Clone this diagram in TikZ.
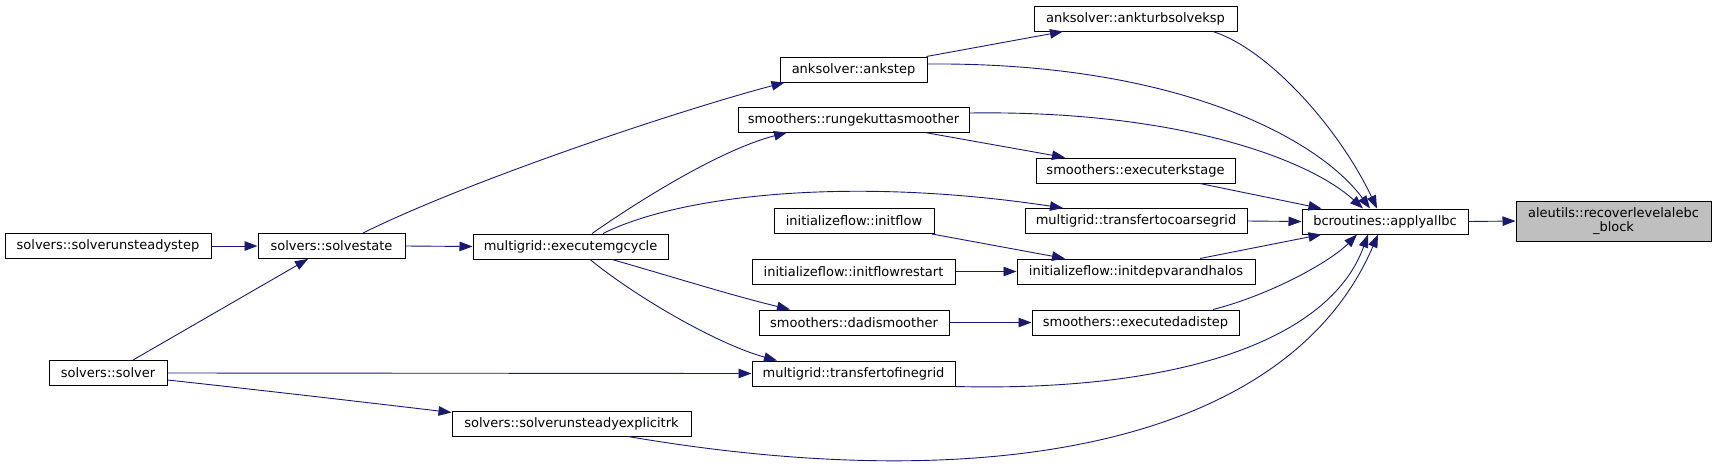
\documentclass[tikz,border=0pt]{standalone}
\usepackage{fontspec}
\setmainfont{DejaVu Sans}
\usetikzlibrary{arrows.meta}
\definecolor{edgec}{HTML}{191970}
\definecolor{rootfill}{HTML}{BFBFBF}
\begin{document}
\begin{tikzpicture}[x=1pt,y=-1pt,
  fn/.style={draw=black,line width=1pt,fill=white,minimum height=25pt,inner sep=0pt,
    font=\fontsize{13}{14.5}\selectfont,text=black},
  call/.style={draw=edgec,line width=0.9pt,-{Triangle[length=13pt,width=9.5pt]},edgec}]
\useasboundingbox (0,0) rectangle (1716,472);
% nodes
\node[fn,minimum width=206pt] (srs) at (108,246) {solvers::solverunsteadystep};
\node[fn,minimum width=147pt] (ss) at (331.5,246) {solvers::solvestate};
\node[fn,minimum width=118pt] (sv) at (108,373) {solvers::solver};
\node[fn,minimum width=147pt] (ank) at (853.5,69.5) {anksolver::ankstep};
\node[fn,minimum width=231pt] (rk) at (853.5,119.5) {smoothers::rungekuttasmoother};
\node[fn,minimum width=195pt] (emg) at (570.5,246.5) {multigrid::executemgcycle};
\node[fn,minimum width=160pt] (inf) at (854,221) {initializeflow::initflow};
\node[fn,minimum width=203pt] (ifr) at (853.5,271.5) {initializeflow::initflowrestart};
\node[fn,minimum width=190pt] (dadi) at (854,322.5) {smoothers::dadismoother};
\node[fn,minimum width=203pt] (tfg) at (853.5,373.5) {multigrid::transfertofinegrid};
\node[fn,minimum width=239pt] (sue) at (571.5,423.5) {solvers::solverunsteadyexplicitrk};
\node[fn,minimum width=203pt] (aksp) at (1135.5,18.5) {anksolver::ankturbsolveksp};
\node[fn,minimum width=199pt] (erk) at (1135.5,170.5) {smoothers::executerkstage};
\node[fn,minimum width=222pt] (tcg) at (1136,221) {multigrid::transfertocoarsegrid};
\node[fn,minimum width=238pt] (idh) at (1136,271.5) {initializeflow::initdepvarandhalos};
\node[fn,minimum width=207pt] (eds) at (1135.5,322.5) {smoothers::executedadistep};
\node[fn,minimum width=166pt] (abc) at (1385,221.5) {bcroutines::applyallbc};
\node[fn,minimum width=195pt,minimum height=40pt,fill=rootfill,align=center] (rec) at (1613.5,221)
  {aleutils::recoverlevelalebc\\\_block};
% edges
\draw[call] (srs.east) -- (ss.west);
\draw[call] ([xshift=25pt]sv.north) -- ([xshift=-23.5pt]ss.south);
\draw[call] ([xshift=31.5pt]ss.north) .. controls (470,180) and (680,110) .. ([xshift=5pt]ank.south west);
\draw[call] (ss.east) -- (emg.west);
\draw[call] (sv.east) -- (tfg.west);
\draw[call] ([yshift=-7pt]sv.east) .. controls (260,390) and (380,404) .. ([yshift=-2pt]sue.north west);
\draw[call] ([xshift=21.5pt]emg.north) .. controls (640,200) and (720,150) .. ([xshift=-66.5pt]rk.south);
\draw[call] ([xshift=32.5pt]emg.north) .. controls (680,195) and (850,176) .. ([xshift=-73pt]tcg.north);
\draw[call] ([xshift=41.5pt]emg.south) .. controls (670,276) and (730,295) .. ([xshift=-64pt]dadi.north);
\draw[call] ([xshift=19.5pt]emg.south) .. controls (640,300) and (720,345) .. ([xshift=-76.5pt]tfg.north);
\draw[call] ([xshift=-1pt]ank.north east) -- ([xshift=-72.5pt]aksp.south);
\draw[call] ([yshift=5.5pt]ank.east) .. controls (1180,62) and (1320,140) .. ([xshift=-15pt]abc.north);
\draw[call] ([xshift=71.5pt]rk.south) -- ([xshift=-70.5pt]erk.north);
\draw[call] ([yshift=6.5pt]rk.east) .. controls (1180,110) and (1310,160) .. ([xshift=-22pt]abc.north);
\draw[call] ([xshift=78pt]inf.south) -- ([xshift=-71pt]idh.north);
\draw[call] (ifr.east) -- (idh.west);
\draw[call] (dadi.east) -- (eds.west);
\draw[call] ([xshift=77.5pt]aksp.south) .. controls (1270,50) and (1340,130) .. ([xshift=-8pt]abc.north);
\draw[call] ([xshift=64.5pt]erk.south) -- ([xshift=20pt]abc.north west);
\draw[call] (tcg.east) -- (abc.west);
\draw[call] ([xshift=64pt]idh.north) -- ([xshift=20pt]abc.south west);
\draw[call] ([xshift=77.5pt]eds.north) .. controls (1270,295) and (1330,262) .. ([xshift=-28pt]abc.south);
\draw[call] (tfg.south east) .. controls (1180,392) and (1330,340) .. ([xshift=-17pt]abc.south);
\draw[call] ([xshift=56.5pt]sue.south) .. controls (1000,500) and (1290,440) .. ([xshift=-7pt]abc.south);
\draw[call] (abc.east) -- (rec.west);
\end{tikzpicture}
\end{document}
